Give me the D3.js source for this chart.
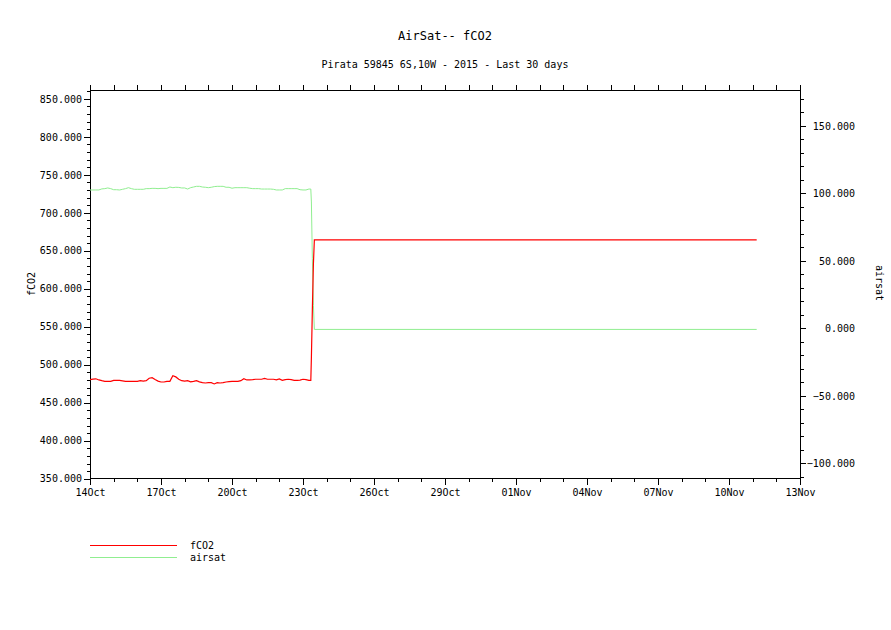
<!DOCTYPE html>
<html>
<head>
<meta charset="utf-8">
<script src="https://cdn.jsdelivr.net/npm/d3@7"></script>
<style>
  html, body { margin: 0; padding: 0; background: #fff; }
  svg { display: block; }
  text { font-family: "DejaVu Sans Mono", "Liberation Mono", monospace; fill: #000; }
</style>
</head>
<body>
<script>
// ---------- data ----------
const titleText = "AirSat-- fCO2";
const subtitleText = "Pirata 59845 6S,10W - 2015 - Last 30 days";
const startDate = new Date(Date.UTC(2015, 9, 14));
const endAxisDays = 30;
const stepHours = 3;
const fco2Early = [
  480.4, 481, 481.5, 480, 479, 478.2, 478.2, 478.2, 479.5, 479.5,
  479.3, 478.8, 478.2, 478.2, 478.2, 478.2, 478.2, 479, 478.5, 479,
  482.2, 483, 480.5, 478.5, 477.3, 477.3, 478.2, 478.2, 485.5, 484,
  481, 479, 478.5, 479, 477.5, 478.2, 479, 477.5, 476.5, 476,
  476.4, 476.4, 474.7, 476.4, 476, 476.4, 477.3, 477.8, 478.2, 478.2,
  478.2, 479, 481.7, 480, 480, 480.4, 480.9, 480.9, 480.9, 482,
  480.9, 480.9, 480.9, 480, 481.3, 479.5, 480.4, 480.9, 480.4, 479.5,
  479.5, 479.8, 480.9, 480.4, 479.5
];
const airsatEarly = [
  102.5, 102.5, 102.5, 102.5, 103.3, 103.5, 104, 103.5, 102.7, 102.7,
  102.5, 103, 103.5, 104.2, 103.5, 103, 103, 103, 103, 103.5,
  103.5, 103.7, 103.7, 103.5, 103.7, 103.7, 103.7, 104.7, 104.2, 104.5,
  104.4, 104, 104, 103.2, 104.2, 104.7, 105.2, 105.2, 104.7, 104.5,
  104.2, 104.5, 105, 105.2, 105.2, 105.2, 104.5, 104.5, 103.8, 104.2,
  104.2, 104.2, 104.2, 104.2, 103.8, 103.5, 103.5, 103.5, 103.2, 103.2,
  103.2, 103.2, 103, 102.5, 102.5, 102.5, 103.5, 103.5, 103.5, 103.5,
  103.5, 102.7, 102.5, 102.5, 103.2
];
// later points: day offsets from startDate
const lateDays    = [9.29, 9.33, 9.355, 9.395, 9.44, 9.48, 28.17];
const fco2Late    = [479.5, 479.5, 510, 572, 633, 664.3, 664.3];
const airsatLate  = [103.2, 103.2, 93.6, 51.6, 17, -0.8, -0.8];

const leftTicks  = [350, 400, 450, 500, 550, 600, 650, 700, 750, 800, 850];
const rightTicks = [-100, -50, 0, 50, 100, 150];
const xTickStepDays = 3;
const seriesNames = ["fCO2", "airsat"];
const seriesColors = ["#ff0000", "#90ee90"];

// ---------- layout ----------
const W = 891, H = 630;
const M = { left: 90, right: 800, top: 90.5, bottom: 478.7 };

const svg = d3.select("body").append("svg").attr("width", W).attr("height", H);

const dayMs = 86400000;
const toDate = d => new Date(startDate.getTime() + d * dayMs);

const x = d3.scaleUtc().domain([startDate, toDate(endAxisDays)]).range([M.left, M.right]);
const yL = d3.scaleLinear().domain([350, 861]).range([M.bottom, M.top]);
const yR = d3.scaleLinear().domain([-111.4, 176.2]).range([M.bottom, M.top]);

// build series
const fSeries = fco2Early.map((v, i) => ({ t: toDate(i * stepHours / 24), v }))
  .concat(lateDays.map((d, i) => ({ t: toDate(d), v: fco2Late[i] })));
const aSeries = airsatEarly.map((v, i) => ({ t: toDate(i * stepHours / 24), v }))
  .concat(lateDays.map((d, i) => ({ t: toDate(d), v: airsatLate[i] })));

const fmt = d3.format(".3f");

// ---------- axes ----------
const g = svg.append("g").attr("shape-rendering", "crispEdges");

// frame
g.append("rect").attr("x", M.left).attr("y", M.top)
  .attr("width", M.right - M.left).attr("height", M.bottom - M.top)
  .attr("fill", "none").attr("stroke", "#000");

// left axis
const leftMinor = d3.range(350, 861, 10);
const leftAx = d3.axisLeft(yL).tickValues(leftMinor).tickSize(3).tickFormat("");
g.append("g").attr("transform", `translate(${M.left},0)`).call(leftAx)
  .call(s => s.select(".domain").remove());
const leftMaj = d3.axisLeft(yL).tickValues(leftTicks).tickSize(6).tickPadding(2).tickFormat(fmt);
g.append("g").attr("transform", `translate(${M.left},0)`).call(leftMaj)
  .call(s => s.select(".domain").remove())
  .call(s => s.selectAll("text").attr("font-size", 10).attr("font-family", "DejaVu Sans Mono"));

// right axis
const rightMinor = d3.range(-110, 177, 10);
const rightAx = d3.axisRight(yR).tickValues(rightMinor).tickSize(4).tickFormat("");
g.append("g").attr("transform", `translate(${M.right},0)`).call(rightAx)
  .call(s => s.select(".domain").remove());
const rightMaj = d3.axisRight(yR).tickValues(rightTicks).tickSize(6).tickFormat(fmt);
const rg = g.append("g").attr("transform", `translate(${M.right},0)`).call(rightMaj)
  .call(s => s.select(".domain").remove());
rg.selectAll("text").attr("font-size", 10).attr("font-family", "DejaVu Sans Mono")
  .attr("text-anchor", "end").attr("x", 55);

// bottom axis
const dayTicks = d3.range(0, endAxisDays + 1, 1).map(toDate);
const majTicks = d3.range(0, endAxisDays + 1, xTickStepDays).map(toDate);
g.append("g").attr("transform", `translate(0,${M.bottom})`)
  .call(d3.axisBottom(x).tickValues(dayTicks).tickSize(3).tickFormat(""))
  .call(s => s.select(".domain").remove());
g.append("g").attr("transform", `translate(0,${M.bottom})`)
  .call(d3.axisBottom(x).tickValues(majTicks).tickSize(6).tickPadding(4)
    .tickFormat(d3.utcFormat("%d%b")))
  .call(s => s.select(".domain").remove())
  .call(s => s.selectAll("text").attr("font-size", 10).attr("font-family", "DejaVu Sans Mono"));

// top axis
g.append("g").attr("transform", `translate(0,${M.top})`)
  .call(d3.axisTop(x).tickValues(dayTicks).tickSize(6).tickFormat(""))
  .call(s => s.select(".domain").remove());

// ---------- lines ----------
const lineL = d3.line().x(d => x(d.t)).y(d => yL(d.v));
const lineR = d3.line().x(d => x(d.t)).y(d => yR(d.v));
svg.append("path").datum(aSeries).attr("d", lineR)
  .attr("fill", "none").attr("stroke", seriesColors[1]).attr("stroke-width", 1);
svg.append("path").datum(fSeries).attr("d", lineL)
  .attr("fill", "none").attr("stroke", seriesColors[0]).attr("stroke-width", 1.2);

// ---------- titles ----------
svg.append("text").attr("x", (M.left + M.right) / 2).attr("y", 40)
  .attr("text-anchor", "middle").attr("font-size", 12).text(titleText);
svg.append("text").attr("x", (M.left + M.right) / 2).attr("y", 68)
  .attr("text-anchor", "middle").attr("font-size", 10).text(subtitleText);

svg.append("text").attr("transform", "translate(35,284) rotate(-90)")
  .attr("text-anchor", "middle").attr("font-size", 10).text(seriesNames[0]);
svg.append("text").attr("transform", "translate(876,283) rotate(90)")
  .attr("text-anchor", "middle").attr("font-size", 10).text(seriesNames[1]);

// ---------- legend ----------
const lg = svg.append("g");
seriesNames.forEach((n, i) => {
  const yy = 545 + i * 12;
  lg.append("line").attr("x1", 90).attr("x2", 177).attr("y1", yy).attr("y2", yy)
    .attr("stroke", seriesColors[i]).attr("shape-rendering", "crispEdges");
  lg.append("text").attr("x", 190).attr("y", yy).attr("dy", "0.35em")
    .attr("font-size", 10).text(n);
});
</script>
</body>
</html>
